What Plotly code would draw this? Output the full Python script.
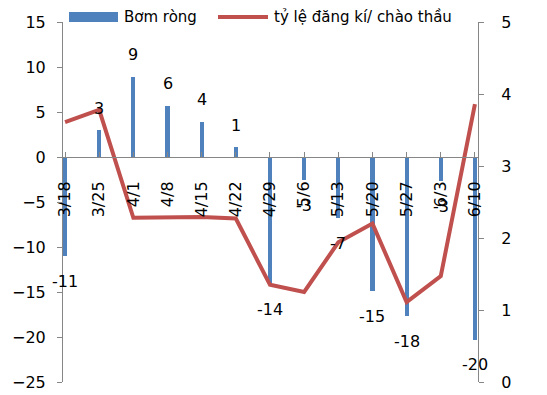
import plotly.graph_objects as go

# Weekly series
weeks = ["3/18", "3/25", "4/1", "4/8", "4/15", "4/22", "4/29",
         "5/6", "5/13", "5/20", "5/27", "6/3", "6/10"]
net_injection = [-11.0, 3.0, 8.9, 5.7, 3.9, 1.1, -14.2,
                 -2.6, -6.8, -14.9, -17.7, -2.7, -20.3]
bid_ratio = [3.61, 3.78, 2.28, 2.28, 2.29, 2.27, 1.35,
             1.25, 1.94, 2.20, 1.11, 1.47, 3.86]

left_ticks = [-25, -20, -15, -10, -5, 0, 5, 10, 15]
right_ticks = [0, 1, 2, 3, 4, 5]

BLUE = "#4F81BD"
RED = "#C0504D"
GRAY = "#868686"
FONT = "DejaVu Sans"

xs = list(range(len(weeks)))

fig = go.Figure()
fig.add_trace(go.Bar(
    x=xs, y=net_injection, width=0.12, marker=dict(color=BLUE, line_width=0),
    name="Bơm ròng", showlegend=False, yaxis="y",
))
fig.add_trace(go.Scatter(
    x=xs, y=bid_ratio, mode="lines", line=dict(color=RED, width=4),
    name="tỷ lệ đăng kí/ chào thầu", showlegend=False, yaxis="y2",
))

# value labels beyond each bar end
annotations = []
for x, v in zip(xs, net_injection):
    annotations.append(dict(
        x=x, y=v, xref="x", yref="y", text=f"{v:.0f}", showarrow=False,
        yshift=22 if v > 0 else -25,
        font=dict(family=FONT, size=16, color="#000000"),
    ))

# legend drawn across the top
L, T, W, H = 63, 22, 415, 360
def px(x):
    return (x - L) / W
def py(y):
    return (T + H - y) / H

shapes = [
    dict(type="rect", xref="paper", yref="paper",
         x0=px(69), x1=px(118), y0=py(22), y1=py(12),
         fillcolor=BLUE, line_width=0),
    dict(type="line", xref="paper", yref="paper",
         x0=px(218), x1=px(268), y0=py(17), y1=py(17),
         line=dict(color=RED, width=4)),
]
annotations += [
    dict(xref="paper", yref="paper", x=px(122), y=py(17), xanchor="left",
         yanchor="middle", text="Bơm ròng", showarrow=False,
         font=dict(family=FONT, size=15, color="#000000")),
    dict(xref="paper", yref="paper", x=px(272), y=py(17), xanchor="left",
         yanchor="middle", text="tỷ lệ đăng kí/ chào thầu", showarrow=False,
         font=dict(family=FONT, size=15, color="#000000")),
]

zero_pos = (0 - left_ticks[0]) / (left_ticks[-1] - left_ticks[0])

fig.update_layout(
    width=547, height=395,
    margin=dict(l=L, r=547 - L - W, t=T, b=395 - T - H),
    paper_bgcolor="white", plot_bgcolor="white",
    font=dict(family=FONT, size=16, color="#000000"),
    bargap=0,
    xaxis=dict(
        range=[-0.06, 12.09], tickmode="array", tickvals=xs, ticktext=weeks,
        tickangle=-90, anchor="free", position=zero_pos, automargin=False,
        showline=True, linecolor=GRAY, linewidth=1,
        ticks="inside", ticklen=5, tickcolor=GRAY,
        ticklabelstandoff=17,
        showgrid=False, zeroline=False,
        tickfont=dict(family=FONT, size=16, color="#000000"),
    ),
    yaxis=dict(
        range=[left_ticks[0], left_ticks[-1]], tickmode="array",
        tickvals=left_ticks, automargin=False,
        showline=True, linecolor=GRAY, linewidth=1,
        ticks="outside", ticklen=5, tickcolor=GRAY,
        ticklabelstandoff=8,
        showgrid=False, zeroline=False,
        tickfont=dict(family=FONT, size=16, color="#000000"),
    ),
    yaxis2=dict(
        range=[right_ticks[0], right_ticks[-1]], tickmode="array",
        tickvals=right_ticks, overlaying="y", side="right", automargin=False,
        showline=True, linecolor=GRAY, linewidth=1,
        ticks="outside", ticklen=5, tickcolor=GRAY,
        ticklabelstandoff=14,
        showgrid=False, zeroline=False,
        tickfont=dict(family=FONT, size=16, color="#000000"),
    ),
    shapes=shapes,
    annotations=annotations,
)

fig.write_html("out.html")
